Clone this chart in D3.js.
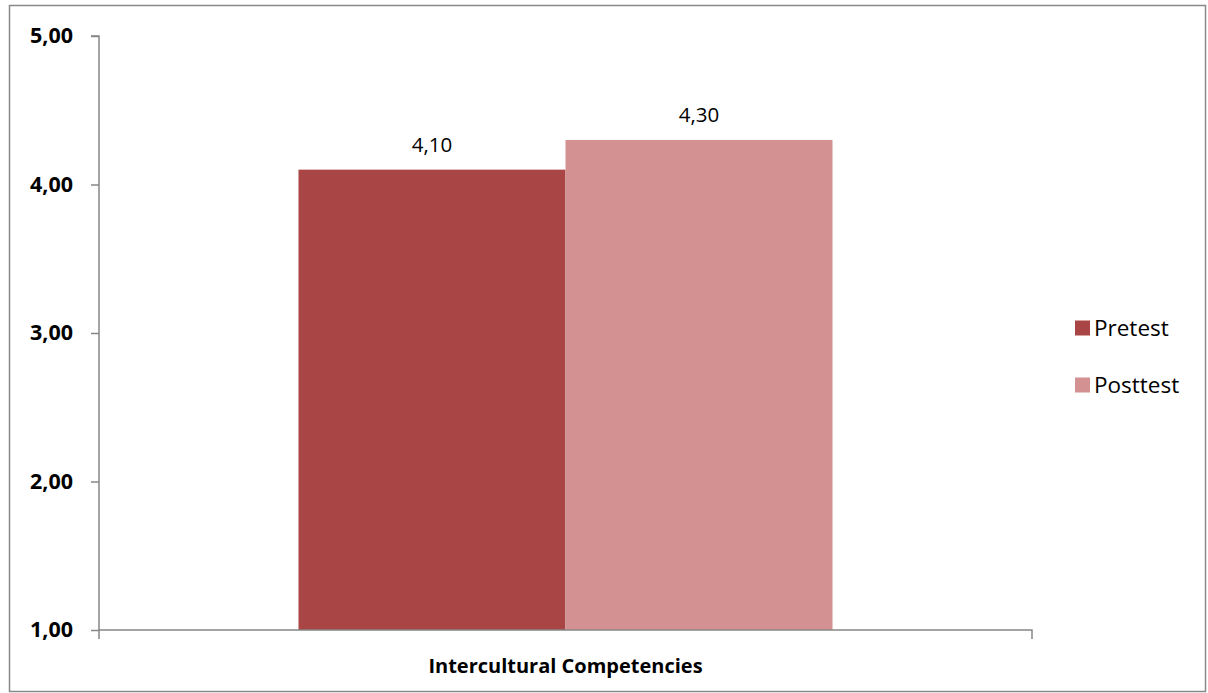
<!DOCTYPE html>
<html>
<head>
<meta charset="utf-8">
<script src="https://cdnjs.cloudflare.com/ajax/libs/d3/7.8.5/d3.min.js"></script>
<style>
  html, body { margin: 0; padding: 0; background: #fff; }
  svg { display: block; }
</style>
</head>
<body>
<svg id="chart" width="1208" height="693"></svg>
<script>
const categories = ["Intercultural Competencies"];
const seriesNames = ["Pretest", "Posttest"];
const seriesValues = [[4.10], [4.30]];
const seriesColors = ["#A94645", "#D39191"];
const yTicks = [1, 2, 3, 4, 5];

const fmt = v => d3.format(".2f")(v).replace(".", ",");
const FONT = "'Open Sans', 'Liberation Sans', sans-serif";

const svg = d3.select("#chart");

// outer border
svg.append("rect")
  .attr("x", 9.5).attr("y", 5.5)
  .attr("width", 1196).attr("height", 686)
  .attr("fill", "#fff").attr("stroke", "#898989").attr("stroke-width", 1.5);

const plot = { left: 99, right: 1032, top: 36, bottom: 630 };

const y = d3.scaleLinear().domain([1, 5]).range([plot.bottom, plot.top]);
const x0 = d3.scaleBand().domain(categories).range([plot.left, plot.right]).paddingInner(0).paddingOuter(0);
const bandW = x0.bandwidth();
const barW = 267;
const x1 = d3.scaleBand().domain(seriesNames)
  .range([bandW / 2 - barW, bandW / 2 + barW]).padding(0);

// bars
categories.forEach((cat, ci) => {
  seriesNames.forEach((s, si) => {
    const v = seriesValues[si][ci];
    const bx = x0(cat) + x1(s);
    svg.append("rect")
      .attr("x", bx).attr("y", y(v))
      .attr("width", x1.bandwidth()).attr("height", y(1) - y(v))
      .attr("fill", seriesColors[si]);
    svg.append("text")
      .attr("x", bx + x1.bandwidth() / 2).attr("y", y(v) - 18)
      .attr("text-anchor", "middle")
      .attr("font-family", FONT)
      .attr("font-size", 20.5).attr("fill", "#000")
      .text(fmt(v));
  });
});

// Y axis
const yAxis = d3.axisLeft(y).tickValues(yTicks).tickSize(8).tickPadding(18).tickFormat(fmt);
const gy = svg.append("g").attr("transform", `translate(${plot.left},0)`).call(yAxis);
gy.select(".domain").attr("stroke", "#878787").attr("stroke-width", 1.5)
  .attr("d", `M-8,${plot.top}H0V${plot.bottom + 9}`);
gy.selectAll(".tick line").attr("stroke", "#878787").attr("stroke-width", 1.5);
gy.selectAll(".tick text")
  .attr("font-family", FONT)
  .attr("font-weight", "bold").attr("font-size", 21.5).attr("fill", "#000");

// X axis
const xAxis = d3.axisBottom(x0).tickSize(0).tickPadding(0);
const gx = svg.append("g").attr("transform", `translate(0,${plot.bottom})`).call(xAxis);
gx.select(".domain").attr("stroke", "#878787").attr("stroke-width", 1.5)
  .attr("d", `M${plot.left},0H${plot.right}V9`);
gx.selectAll(".tick text")
  .attr("y", 43).attr("dy", 0)
  .attr("font-family", FONT)
  .attr("font-weight", "bold").attr("font-size", 20).attr("fill", "#000");

// legend
const legend = svg.append("g");
seriesNames.forEach((s, i) => {
  const ly = 328 + i * 57;
  legend.append("rect")
    .attr("x", 1075).attr("y", ly - 7.5)
    .attr("width", 15).attr("height", 15)
    .attr("fill", seriesColors[i]);
  legend.append("text")
    .attr("x", 1094).attr("y", ly + 8)
    .attr("font-family", FONT)
    .attr("font-size", 22.5).attr("fill", "#000")
    .text(s);
});
</script>
</body>
</html>
